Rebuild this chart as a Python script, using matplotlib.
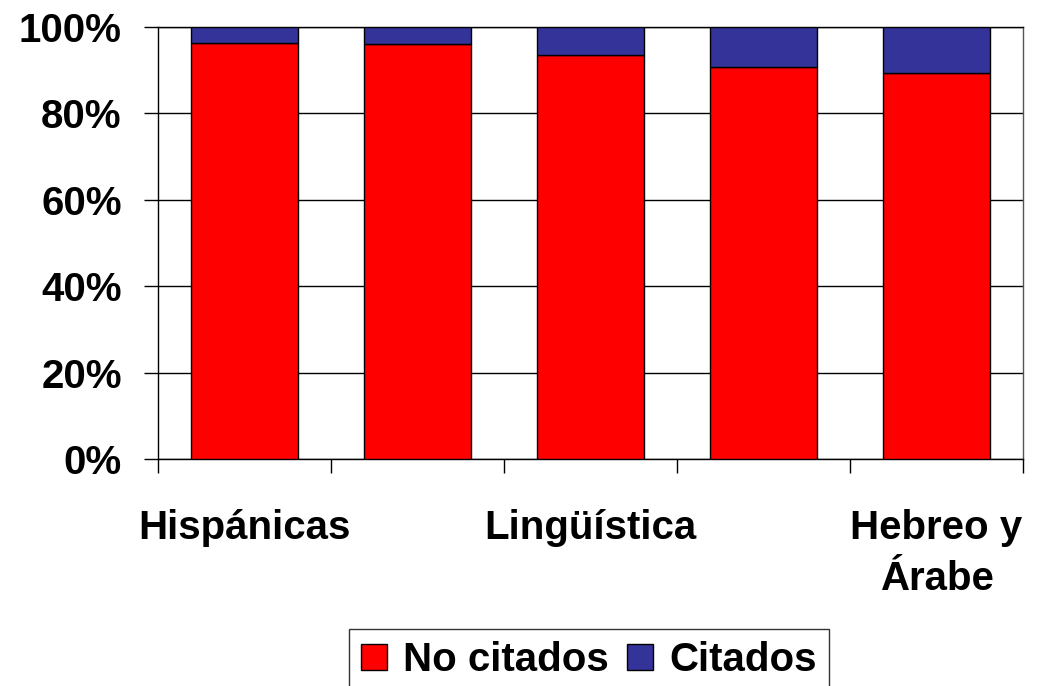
import matplotlib.pyplot as plt
import numpy as np

# Datos (porcentajes)
categorias = ["Hispánicas", "", "Lingüística", "", "Hebreo y\nÁrabe"]
no_citados = [96.4, 96.1, 93.6, 90.7, 89.4]
citados = [3.6, 3.9, 6.4, 9.3, 10.6]

plt.rcParams['font.family'] = ['Liberation Sans', 'DejaVu Sans']
plt.rcParams['font.weight'] = 'bold'

fig = plt.figure(figsize=(10.46, 6.86), dpi=100)
ax = fig.add_axes([0.151, 0.331, 0.827, 0.6296])

x = np.arange(len(categorias))
ax.bar(x, no_citados, width=0.62, color='#FF0000', edgecolor='black', linewidth=1,
       label='No citados', zorder=3)
ax.bar(x, citados, width=0.62, bottom=no_citados, color='#333399', edgecolor='black',
       linewidth=1, label='Citados', zorder=3)

ax.set_xlim(-0.5, len(categorias) - 0.5)
ax.set_ylim(0, 100)
ax.set_yticks([0, 20, 40, 60, 80, 100])
ax.set_yticklabels(['0%', '20%', '40%', '60%', '80%', '100%'], fontsize=29, fontweight='bold')
ax.yaxis.grid(True, color='black', linewidth=1, zorder=0)

ax.set_xticks(x)
ax.set_xticklabels(categorias, fontsize=29, fontweight='bold', linespacing=1.42)
ax.set_xticks(np.arange(-0.5, len(categorias)), minor=True)
ax.tick_params(axis='x', which='major', length=0, pad=36)
ax.tick_params(axis='x', which='minor', length=10, width=1, direction='out')
ax.tick_params(axis='y', length=10, width=1, direction='out', pad=16)

for s in ax.spines.values():
    s.set_color('black')
    s.set_linewidth(1)
ax.spines['right'].set_color('#555555')

leg = fig.legend(loc='upper center', bbox_to_anchor=(0.563, 0.083), ncol=2,
                 prop={'weight': 'bold', 'size': 29}, frameon=True,
                 fancybox=False, edgecolor='black', handlelength=0.65, handleheight=0.65,
                 handletextpad=0.4, columnspacing=0.45, borderpad=0.3, borderaxespad=0)
leg.get_frame().set_linewidth(1)

fig.savefig('out.png', dpi=100)
